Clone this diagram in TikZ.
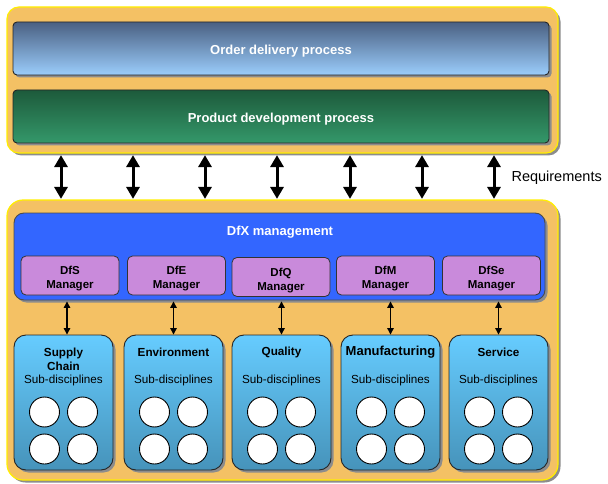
\documentclass[tikz,border=0pt]{standalone}
\usepackage{fontspec}
\setmainfont{Liberation Sans}
\usepackage{tikz}
\usetikzlibrary{arrows.meta,positioning,calc,shadows}
\definecolor{DfxOrange}{HTML}{F4C164}
\definecolor{DfxYellow}{HTML}{FFEE00}
\definecolor{OrderTop}{HTML}{4A6082}
\definecolor{OrderBot}{HTML}{9BCDFC}
\definecolor{ProdTop}{HTML}{1D5A3B}
\definecolor{ProdBot}{HTML}{34986A}
\definecolor{DfxBlue}{HTML}{3366FF}
\definecolor{MgrPurple}{HTML}{C98ADB}
\definecolor{DiscTop}{HTML}{66CCFF}
\definecolor{DiscBot}{HTML}{4693BA}
\newcommand\hdfont{\fontsize{13}{15}\selectfont\bfseries}
\newcommand\mgrlines[1]{\rule{0pt}{15pt}#1\\Manager}

\begin{document}
\begin{tikzpicture}[x=1pt,y=-1pt,
  shadowed/.style={drop shadow={shadow xshift=2.5pt,shadow yshift=-2.5pt,fill=black!45,opacity=1}},
  panel/.style={shadowed,rounded corners=12pt,fill=DfxOrange,draw=DfxYellow,line width=1.2pt,
    minimum width=551pt},
  procbox/.style={shadowed,rounded corners=4pt,draw=black!85,line width=0.9pt,
    minimum width=536pt,minimum height=53pt,text=white,font=\hdfont,
    text height=12.5pt,text depth=0pt},
  mgrbox/.style={rounded corners=5pt,fill=MgrPurple,draw=black!80,line width=0.8pt,
    minimum width=98pt,minimum height=39pt,align=center,inner sep=0pt,
    font=\fontsize{11.5}{14}\selectfont\bfseries},
  discbox/.style={shadowed,rounded corners=12pt,top color=DiscTop,bottom color=DiscBot,
    draw=black!85,line width=0.9pt,minimum width=99pt,minimum height=135pt},
  disctitle/.style={align=center,inner sep=0pt,font=\fontsize{11.7}{14}\selectfont\bfseries},
  subtext/.style={inner sep=0pt,font=\fontsize{11.7}{14}\selectfont},
  subcircle/.style={circle,fill=white,draw=black,line width=0.9pt,minimum size=30pt,inner sep=0pt},
  bigarrow/.style={line width=3pt,{Triangle[width=13pt,length=12pt]}-{Triangle[width=13pt,length=12pt]}},
  smallarrow/.style={line width=1.2pt,{Triangle[width=6.5pt,length=6.5pt]}-{Triangle[width=6.5pt,length=6.5pt]}}]
  \useasboundingbox (0,0) rectangle (608,484);

  % process layer
  \node[panel,minimum height=146pt] (top) at (282.5,80) {};
  \node[procbox,top color=OrderTop,bottom color=OrderBot] (order) at (281,48.5) {Order delivery process};
  \node[procbox,top color=ProdTop,bottom color=ProdBot] (product) at (281,116.5) {Product development process};

  % DfX layer
  \node[panel,minimum height=280pt,rounded corners=16pt] (bottom) at (282.5,340) {};
  \node[shadowed,rounded corners=10pt,fill=DfxBlue,draw=black!70,line width=0.9pt,
    minimum width=531pt,minimum height=87pt] (dfx) at (279.5,256.5) {};
  \node[text=white,font=\hdfont] (dfxtitle) at (280,232.5) {DfX management};

  \node[mgrbox] (dfs) at (70,275.5) {\mgrlines{DfS}};
  \node[mgrbox] (dfe) at (176.5,275.5) {\mgrlines{DfE}};
  \node[mgrbox] (dfq) at (281,277) {\mgrlines{DfQ}};
  \node[mgrbox] (dfm) at (385.5,275.5) {\mgrlines{DfM}};
  \node[mgrbox] (dfse) at (491.5,275.5) {\mgrlines{DfSe}};

  % requirements between the layers
  \foreach \x in {61,133,205,277,350,422,494}
    \draw[bigarrow,shorten <=1.5pt,shorten >=0.5pt] (\x,0 |- top.south) -- (\x,0 |- bottom.north);
  \node[anchor=west,font=\fontsize{14.5}{16}\selectfont] (req) at (508,178) {Requirements};

  % disciplines
  \def\discipline#1#2#3#4#5{
    \node[discbox] (#1) at (#2,402.5) {};
    \node[disctitle] (#1-title) at (#2,#4) {#3};
    \node[subtext] (#1-sub) at (#2,380.5) {Sub-disciplines};
    \foreach \i/\dx/\dy in {a/-19/412,b/19/412,c/-19/449,d/19/449}
      \node[subcircle] (#1-\i) at (#2+\dx,\dy) {};
    \draw[smallarrow,shorten <=1pt] ([xshift=#5pt]#1.north |- dfx.south) -- ([xshift=#5pt]#1.north);
  }
  \discipline{supply}{63.5}{Supply\\Chain}{359}{3.5}
  \discipline{environment}{173.5}{Environment}{352}{0}
  \discipline{quality}{281.5}{Quality}{352}{0}
  \discipline{manufacturing}{390.5}{\fontsize{13}{15}\selectfont Manufacturing}{352.5}{0}
  \discipline{service}{498.5}{Service}{352}{0}
\end{tikzpicture}
\end{document}
